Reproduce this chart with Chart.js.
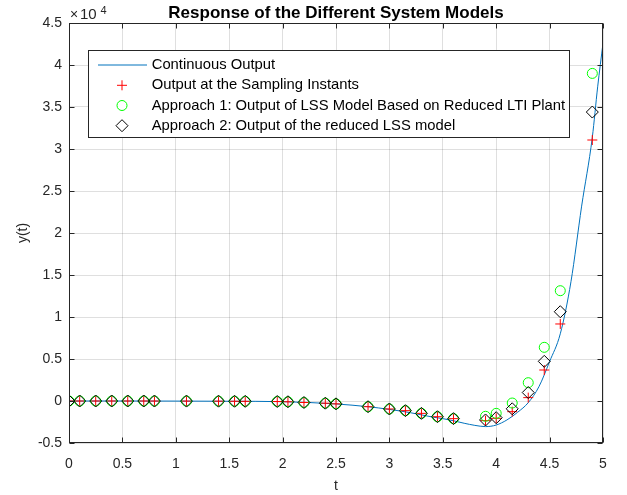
<!DOCTYPE html>
<html>
<head>
<meta charset="utf-8">
<title>Response of the Different System Models</title>
<script src="https://cdn.jsdelivr.net/npm/chart.js@4.4.1/dist/chart.umd.min.js"></script>
<style>
  html, body { margin: 0; padding: 0; background: #fff; }
  #wrap { width: 627px; height: 495px; position: relative; }
</style>
</head>
<body>
<div id="wrap"><canvas id="respChart"></canvas></div>
<script>
const FONT = "'Liberation Sans', Arial, Helvetica, sans-serif";
const TITLE = 'Response of the Different System Models';

// sampling instants
const sampleTimes = [0, 0.1, 0.25, 0.4, 0.55, 0.7, 0.8, 1.1, 1.4, 1.55, 1.65, 1.95, 2.05, 2.2, 2.4, 2.5,
  2.8, 3.0, 3.15, 3.3, 3.45, 3.6, 3.9, 4.0, 4.15, 4.3, 4.45, 4.6, 4.9];
// output at the sampling instants
const sampledOutput = [0, 0, 0, 0, 0, 0, -5, -10, -20, -30, -40, -60, -90, -180, -260, -340,
  -680, -950, -1150, -1470, -1870, -2100, -2340, -2060, -1270, 400, 3690, 9170, 31070];
// approach 1: LSS model from reduced LTI plant
const approach1Output = [0, 0, 0, 0, 0, 0, -5, -10, -20, -30, -40, -60, -90, -180, -260, -340,
  -680, -950, -1150, -1470, -1870, -2100, -1820, -1470, -240, 2180, 6390, 13130, 39000];
// approach 2: reduced LSS model
const approach2Output = [0, 0, 0, 0, 0, 0, -5, -10, -20, -30, -40, -60, -90, -180, -260, -340,
  -680, -950, -1150, -1470, -1870, -2100, -2260, -1990, -930, 1010, 4720, 10630, 34400];

// continuous output
const contTimes = [0, 0.5, 1.0, 1.5, 2.0, 2.5, 2.8, 3.0, 3.2, 3.4, 3.5, 3.6, 3.7, 3.8, 3.9, 4.0,
  4.1, 4.2, 4.3, 4.4, 4.5, 4.6, 4.7, 4.8, 4.9, 4.95, 5.0];
const contOutput = [0, 0, -10, -30, -80, -350, -680, -1000, -1400, -1900, -2100, -2350, -2650, -2900, -3050, -2860,
  -2260, -1350, -200, 1700, 4700, 8000, 14200, 23200, 31400, 37400, 42600];

const xTicks = [0, 0.5, 1, 1.5, 2, 2.5, 3, 3.5, 4, 4.5, 5];
const yTicks = [-5000, 0, 5000, 10000, 15000, 20000, 25000, 30000, 35000, 40000, 45000];

const toPoints = (xs, ys) => xs.map((x, i) => ({ x: x, y: ys[i] }));

// MATLAB style box, inward ticks, title, exponent and legend
const matlabFrame = {
  id: 'matlabFrame',
  afterDraw(chart) {
    const { ctx, chartArea: a, scales: { x, y } } = chart;
    const L = Math.round(a.left) + 0.5, R = Math.round(a.right) - 0.5;
    const T = Math.round(a.top) + 0.5, B = Math.round(a.bottom) - 0.5;
    ctx.save();
    ctx.strokeStyle = '#262626';
    ctx.lineWidth = 1;
    ctx.strokeRect(L, T, R - L, B - T);
    ctx.beginPath();
    xTicks.forEach(v => {
      const px = Math.round(x.getPixelForValue(v)) + 0.5;
      ctx.moveTo(px, B); ctx.lineTo(px, B - 5);
      ctx.moveTo(px, T); ctx.lineTo(px, T + 5);
    });
    yTicks.forEach(v => {
      const py = Math.round(y.getPixelForValue(v)) + 0.5;
      ctx.moveTo(L, py); ctx.lineTo(L + 5, py);
      ctx.moveTo(R, py); ctx.lineTo(R - 5, py);
    });
    ctx.stroke();

    // title over the axes
    ctx.fillStyle = '#000';
    ctx.textAlign = 'center';
    ctx.textBaseline = 'alphabetic';
    ctx.font = 'bold 17px ' + FONT;
    ctx.fillText(TITLE, (a.left + a.right) / 2, 17.5);

    // x10^4 multiplier
    ctx.fillStyle = '#262626';
    ctx.textAlign = 'left';
    ctx.font = '14px ' + FONT;
    ctx.fillText('\u00d7', a.left + 1, 19);
    ctx.font = '15px ' + FONT;
    ctx.fillText('10', a.left + 11, 19);
    ctx.font = '11px ' + FONT;
    ctx.fillText('4', a.left + 31.5, 13.5);

    // legend
    const bx = 88.5, by = 50.5, bw = 481, bh = 87;
    ctx.fillStyle = '#fff';
    ctx.fillRect(bx, by, bw, bh);
    ctx.strokeStyle = '#262626';
    ctx.strokeRect(bx, by, bw, bh);
    const rows = [65, 85.3, 105.5, 125.7];
    const mx = 122;
    chart.data.datasets.forEach((ds, i) => {
      const ry = rows[i];
      ctx.strokeStyle = ds.borderColor;
      ctx.lineWidth = 1;
      ctx.beginPath();
      if (i === 0) {
        ctx.moveTo(98, ry); ctx.lineTo(147, ry);
      } else if (ds.pointStyle === 'cross') {
        const r = ds.pointRadius;
        ctx.moveTo(mx - r, ry); ctx.lineTo(mx + r, ry);
        ctx.moveTo(mx, ry - r); ctx.lineTo(mx, ry + r);
      } else if (ds.pointStyle === 'circle') {
        ctx.arc(mx, ry, ds.pointRadius, 0, Math.PI * 2);
      } else {
        const r = ds.pointRadius;
        ctx.moveTo(mx, ry - r); ctx.lineTo(mx + r, ry);
        ctx.lineTo(mx, ry + r); ctx.lineTo(mx - r, ry); ctx.closePath();
      }
      ctx.stroke();
      ctx.fillStyle = '#000';
      ctx.font = '14.8px ' + FONT;
      ctx.textBaseline = 'middle';
      ctx.fillText(ds.label, 151.7, ry);
    });
    ctx.restore();
  }
};

new Chart(document.getElementById('respChart'), {
  type: 'scatter',
  data: {
    datasets: [{
      label: 'Continuous Output',
      data: toPoints(contTimes, contOutput),
      showLine: true,
      borderColor: '#0072BD',
      borderWidth: 1,
      pointRadius: 0,
      cubicInterpolationMode: 'monotone',
      order: 4
    }, {
      label: 'Output at the Sampling Instants',
      data: toPoints(sampleTimes, sampledOutput),
      pointStyle: 'cross',
      pointRadius: 5,
      borderColor: '#FF0000',
      borderWidth: 1,
      order: 3
    }, {
      label: 'Approach 1: Output of LSS Model Based on Reduced LTI Plant',
      data: toPoints(sampleTimes, approach1Output),
      pointStyle: 'circle',
      pointRadius: 5,
      borderColor: '#00FF00',
      backgroundColor: 'rgba(0,0,0,0)',
      borderWidth: 1,
      order: 2
    }, {
      label: 'Approach 2: Output of the reduced LSS model',
      data: toPoints(sampleTimes, approach2Output),
      pointStyle: 'rectRot',
      pointRadius: 6,
      borderColor: '#000000',
      backgroundColor: 'rgba(0,0,0,0)',
      borderWidth: 1,
      order: 1
    }]
  },
  options: {
    responsive: true,
    maintainAspectRatio: false,
    animation: false,
    events: [],
    layout: { padding: { left: 0, right: 24, top: 23, bottom: 0 } },
    plugins: {
      legend: { display: false },
      tooltip: { enabled: false },
      title: { display: false }
    },
    scales: {
      x: {
        type: 'linear',
        min: 0, max: 5,
        afterBuildTicks: s => { s.ticks = xTicks.map(v => ({ value: v })); },
        afterFit: s => { s.height = 52; },
        grid: { color: 'rgba(38,38,38,0.15)', drawTicks: false },
        border: { display: false },
        ticks: {
          color: '#262626',
          padding: 13,
          maxRotation: 0,
          font: { family: FONT, size: 14 },
          callback: v => String(v)
        },
        title: {
          display: true, text: 't', color: '#262626',
          font: { family: FONT, size: 14 },
          padding: { top: 0, bottom: 0 }
        }
      },
      y: {
        type: 'linear',
        min: -5000, max: 45000,
        afterBuildTicks: s => { s.ticks = yTicks.map(v => ({ value: v })); },
        afterFit: s => { s.width = 69; },
        grid: { color: 'rgba(38,38,38,0.15)', drawTicks: false },
        border: { display: false },
        ticks: {
          color: '#262626',
          padding: 7,
          font: { family: FONT, size: 14 },
          callback: v => String(Math.round(v / 1000) / 10)
        },
        title: {
          display: true, text: 'y(t)', color: '#262626',
          font: { family: FONT, size: 14 },
          padding: { top: 15, bottom: 0 }
        }
      }
    }
  },
  plugins: [matlabFrame]
});
</script>
</body>
</html>
